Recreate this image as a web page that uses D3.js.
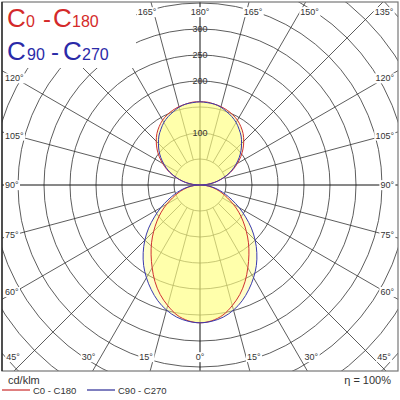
<!DOCTYPE html>
<html>
<head>
<meta charset="utf-8">
<script src="https://cdn.jsdelivr.net/npm/d3@7"></script>
<style>
body { margin: 0; background: #fff; }
svg { display: block; font-family: "Liberation Sans", Arial, sans-serif; }
</style>
</head>
<body>
<div class="chart"></div>
<script>
const width = 400
const height = 400

// gamma angles, 0 = straight down, 180 = straight up
const gammas = [0, 5, 10, 15, 20, 25, 30, 35, 40, 45, 50, 55, 60, 65, 70, 75, 80, 85, 90,
    95, 100, 105, 110, 115, 120, 125, 130, 135, 140, 145, 150, 155, 160, 165, 170, 175, 180]

// cd/klm
const c0c180 = [265, 262, 254, 240, 224, 205, 184, 164, 145, 126, 108, 91, 74, 58, 45, 33, 22, 11, 0,
    14, 28, 42, 56, 70, 83, 96, 108, 119, 129, 137, 144, 149, 153, 156, 158, 160, 160]
const c90c270 = [265, 263, 258, 249, 237, 222, 206, 189, 170, 150, 129, 107, 87, 68, 52, 38, 25, 12, 0,
    14, 28, 41, 55, 68, 80, 92, 103, 113, 123, 131, 139, 145, 150, 155, 158, 159, 160]

const ringValues = [50, 100, 150, 200, 250, 300, 350, 400, 450, 500]
const ringLabels = [100, 200, 250, 300]
const spokeAngles = [0, 15, 30, 45, 60, 75, 90, 105, 120, 135, 150, 165, 180]

const seriesNames = ["C0 - C180", "C90 - C270"]
const seriesColors = ["#d03030", "#3a3ab0"]
const legendColors = ["#c00000", "#000080"]

const cx = 200
const cy = 185
const frame = { left: 2, top: 2, right: 398, bottom: 371 }
const titleBox = { width: 134, height: 66 }
const rad = d => d * Math.PI / 180

const svg = d3.select(".chart")
    .append("svg")
    .attr("width", width)
    .attr("height", height)

const rScale = d3.scaleLinear()
    .domain([0, 500])
    .range([0, 260])

svg.append("clipPath")
    .attr("id", "frame")
    .append("rect")
        .attr("x", frame.left)
        .attr("y", frame.top)
        .attr("width", frame.right - frame.left)
        .attr("height", frame.bottom - frame.top)

const plot = svg.append("g").attr("clip-path", "url(#frame)")
const g = plot.append("g").attr("transform", `translate(${cx}, ${cy})`)

// rings
g.selectAll("circle.ring")
    .data(ringValues)
    .enter().append("circle")
        .attr("class", "ring")
        .attr("r", d => rScale(d))
        .attr("fill", "none")
        .attr("stroke", "#333")
        .attr("stroke-width", 0.8)

// spokes start at the first ring
const spokes = spokeAngles
    .filter(a => a % 180 !== 0 && a !== 90)
    .flatMap(a => [{ a, s: 1 }, { a, s: -1 }])

g.selectAll("line.spoke")
    .data(spokes)
    .enter().append("line")
        .attr("class", "spoke")
        .attr("x1", d => d.s * Math.sin(rad(d.a)) * rScale(50))
        .attr("y1", d => Math.cos(rad(d.a)) * rScale(50))
        .attr("x2", d => d.s * Math.sin(rad(d.a)) * 600)
        .attr("y2", d => Math.cos(rad(d.a)) * 600)
        .attr("stroke", "#333")
        .attr("stroke-width", 0.8)

// main axes through the centre
g.append("line").attr("x1", 0).attr("x2", 0).attr("y1", -400).attr("y2", 400)
    .attr("stroke", "#111").attr("stroke-width", 1)
g.append("line").attr("x1", -400).attr("x2", 400).attr("y1", 0).attr("y2", 0)
    .attr("stroke", "#111").attr("stroke-width", 1)

// white patch behind the title
plot.append("rect")
    .attr("x", frame.left)
    .attr("y", frame.top)
    .attr("width", titleBox.width)
    .attr("height", titleBox.height)
    .attr("fill", "#fff")

// curves, one path per lobe so the cusp at the centre stays clean
const radial = d3.lineRadial()
    .angle(d => d.angle)
    .radius(d => rScale(d.value))
    .curve(d3.curveCatmullRom)

const lobes = (values, from, to) => {
    const right = d3.range(to, from - 1, -1).map(i => ({ angle: Math.PI - rad(gammas[i]), value: values[i] }))
    const left = d3.range(from, to + 1).map(i => ({ angle: Math.PI + rad(gammas[i]), value: values[i] }))
    return to === 18 ? right.concat(left.slice(1)) : right.reverse().concat(left.reverse().slice(1))
}

const series = [c0c180, c90c270].map((values, k) => ({
    color: seriesColors[k],
    parts: [lobes(values, 0, 18), lobes(values, 18, 36)]
}))

series.forEach(s => {
    g.selectAll(null)
        .data(s.parts)
        .enter().append("path")
            .attr("d", radial)
            .attr("fill", "#ffff80")
            .attr("fill-opacity", 0.42)
})

series.forEach(s => {
    g.selectAll(null)
        .data(s.parts)
        .enter().append("path")
            .attr("d", radial)
            .attr("fill", "none")
            .attr("stroke", s.color)
            .attr("stroke-width", 1)
})

// ring labels on the vertical axis
g.selectAll("text.ring")
    .data(ringLabels)
    .enter().append("text")
        .attr("x", 0)
        .attr("y", d => -rScale(d))
        .attr("dy", "0.35em")
        .attr("text-anchor", "middle")
        .attr("font-size", 9)
        .attr("fill", "#333")
        .text(d => d)

// angle labels where the spokes meet the frame
const angleLabels = spokeAngles.flatMap(a => (a % 180 === 0) ? [{ a, s: 1 }] : [{ a, s: 1 }, { a, s: -1 }])
    .map(d => {
        const dx = d.s * Math.sin(rad(d.a))
        const dy = Math.cos(rad(d.a))
        const tx = Math.abs(dx) < 1e-9 ? Infinity : ((d.s > 0 ? frame.right : frame.left) - cx) / dx
        const ty = dy > 1e-9 ? (frame.bottom - cy) / dy : dy < -1e-9 ? (frame.top - cy) / dy : Infinity
        if (ty <= tx) {
            const off = d.a % 180 === 0 ? 0 : 4 * d.s
            return { text: `${d.a}°`, x: Math.max(13, Math.min(384, cx + dx * ty + off)), y: dy > 0 ? 357 : 12, anchor: "middle" }
        }
        const y = cy + dy * ((d.s > 0 ? 385 : 15) - cx) / dx
        return { text: `${d.a}°`, x: d.s > 0 ? 394 : 5, y, anchor: d.s > 0 ? "end" : "start" }
    })
    // the title covers the upper-left labels
    .filter(d => !(d.x < frame.left + titleBox.width && d.y < frame.top + titleBox.height))

const labelGroups = plot.selectAll("g.angle")
    .data(angleLabels)
    .enter().append("g")
        .attr("class", "angle")

labelGroups.append("text")
    .attr("x", d => d.x)
    .attr("y", d => d.y)
    .attr("dy", "0.35em")
    .attr("text-anchor", d => d.anchor)
    .attr("font-size", 9)
    .attr("fill", "#333")
    .text(d => d.text)

labelGroups.each(function() {
    const grp = d3.select(this)
    const b = grp.select("text").node().getBBox()
    grp.insert("rect", "text")
        .attr("x", b.x - 1)
        .attr("y", b.y)
        .attr("width", b.width + 2)
        .attr("height", b.height)
        .attr("fill", "#fff")
})

// frame
svg.append("rect")
    .attr("x", frame.left)
    .attr("y", frame.top)
    .attr("width", frame.right - frame.left)
    .attr("height", frame.bottom - frame.top)
    .attr("fill", "none")
    .attr("stroke", "#777")
    .attr("stroke-width", 1.2)
svg.append("line")
    .attr("x1", frame.left).attr("x2", frame.left)
    .attr("y1", frame.top).attr("y2", frame.bottom)
    .attr("stroke", "#111")
    .attr("stroke-width", 1.2)

// big title, C with small numbers
const titles = [
    { parts: [["C", 7, 26], ["0", 26, 16], ["-", 43, 24], ["C", 53, 26], ["180", 72, 16]], y: 27, color: "#d42a2a" },
    { parts: [["C", 7, 26], ["90", 27, 16], ["-", 51, 24], ["C", 63, 26], ["270", 82, 16]], y: 60, color: "#2a2aa8" }
]

titles.forEach(t => {
    svg.append("text")
        .attr("y", t.y)
        .attr("fill", t.color)
        .selectAll("tspan")
        .data(t.parts)
        .enter().append("tspan")
            .attr("x", d => d[1])
            .attr("font-size", d => d[2])
            .text(d => d[0])
})

// bottom texts
svg.append("text")
    .attr("x", 8)
    .attr("y", 384)
    .attr("font-size", 11)
    .attr("fill", "#333")
    .text("cd/klm")

svg.append("text")
    .attr("x", 391)
    .attr("y", 384)
    .attr("text-anchor", "end")
    .attr("font-size", 11)
    .attr("fill", "#333")
    .text("η = 100%")

const legendX = [2, 87]
const legend = svg.selectAll("g.legend")
    .data(seriesNames)
    .enter().append("g")
        .attr("class", "legend")
        .attr("transform", (d, i) => `translate(${legendX[i]}, 390)`)

legend.append("line")
    .attr("x1", 0)
    .attr("x2", 28)
    .attr("stroke", (d, i) => legendColors[i])
    .attr("stroke-width", 1)

legend.append("text")
    .attr("x", 31)
    .attr("y", 4)
    .attr("font-size", 9.5)
    .attr("fill", "#333")
    .text(d => d)
</script>
</body>
</html>
